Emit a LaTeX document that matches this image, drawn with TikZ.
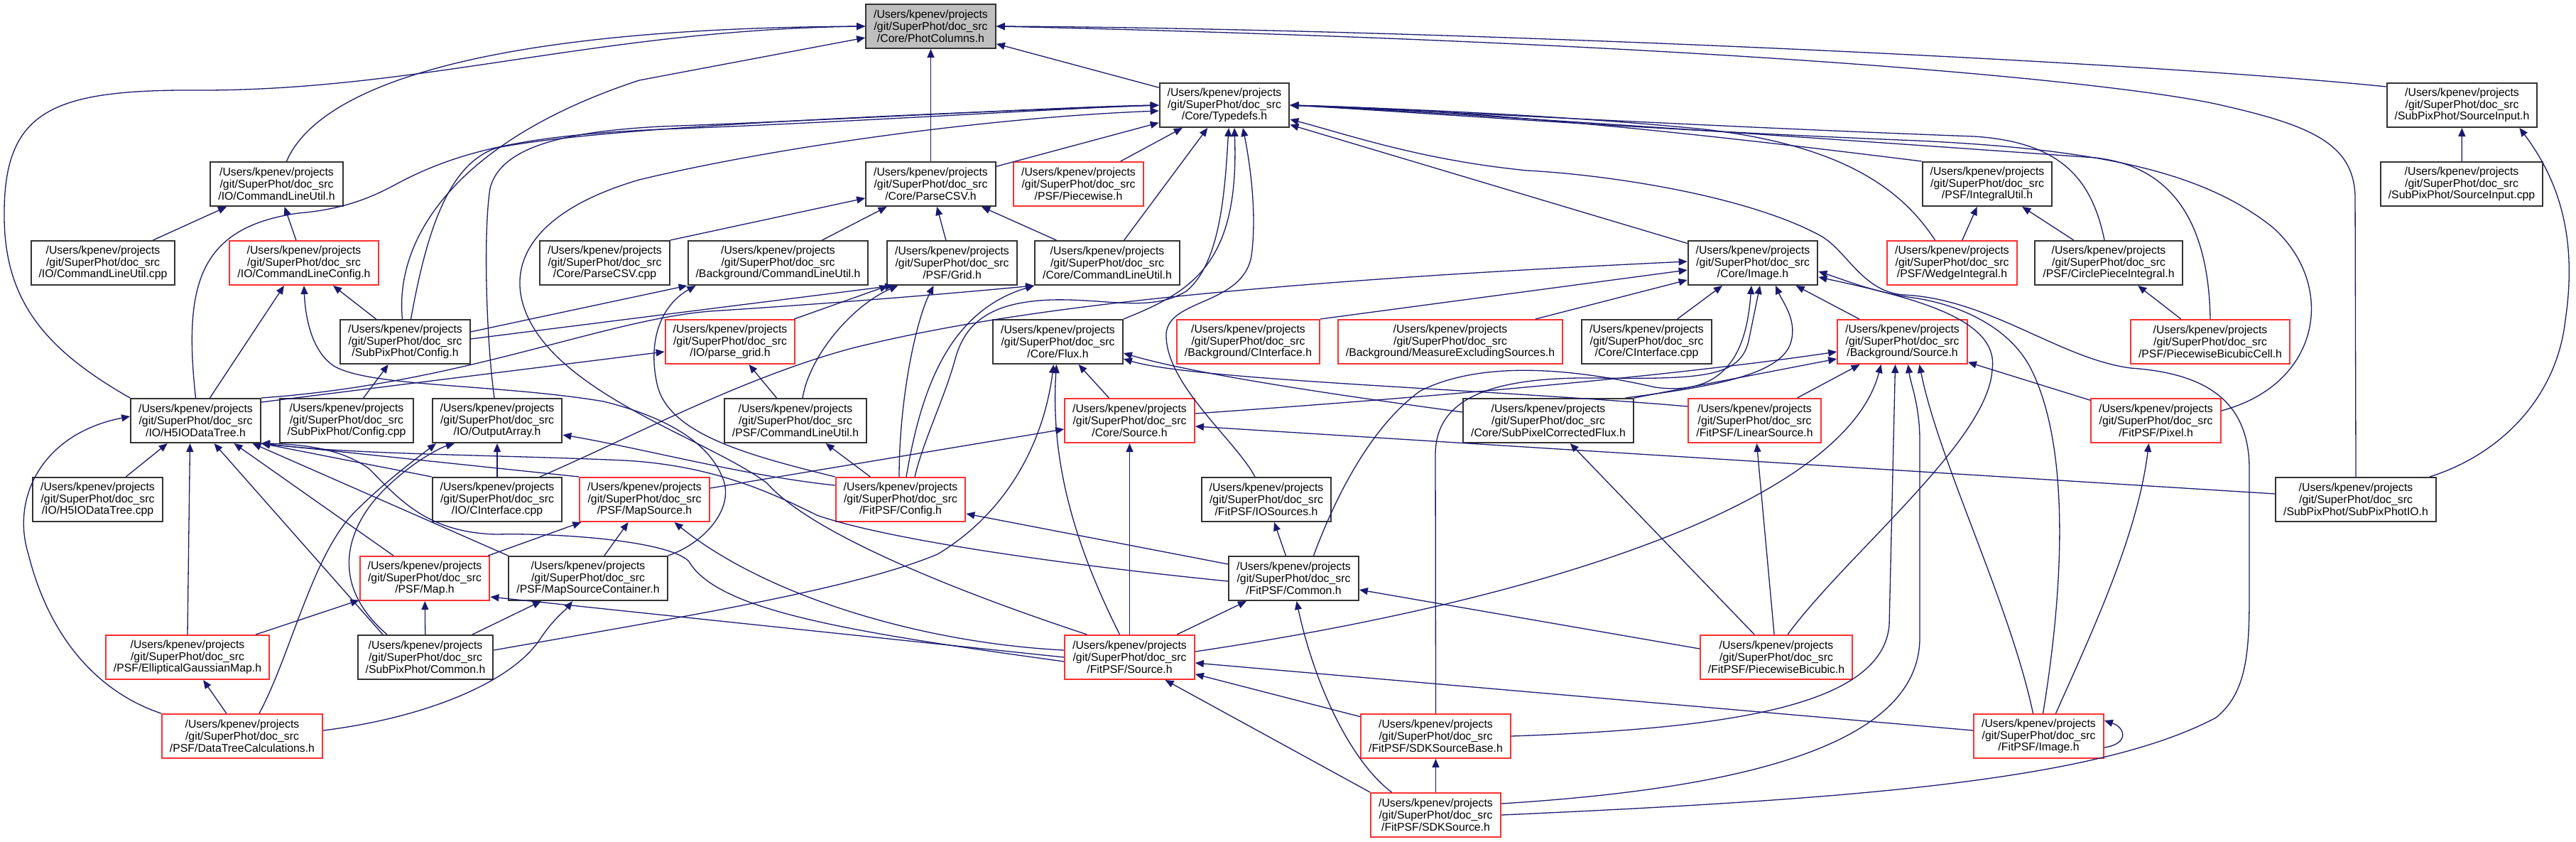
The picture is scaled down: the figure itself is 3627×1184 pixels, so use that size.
\documentclass[tikz,border=0pt]{standalone}
\usepackage{fontspec}
\setmainfont{Liberation Sans}
\usetikzlibrary{arrows.meta}
\definecolor{azuloscuro}{HTML}{191970}
\definecolor{rojo}{HTML}{FF3030}
\definecolor{gris}{HTML}{BFBFBF}
\newcommand{\srcpath}[1]{/Users/kpenev/projects\\/git/SuperPhot/doc\_src\\#1}
\begin{document}
\begin{tikzpicture}[x=0.5pt,y=-0.5pt,>={Triangle[length=6pt,width=5pt]},
  b/.style={draw=black!80,line width=1pt,fill=white,align=center,inner xsep=5.5pt,inner ysep=0pt,minimum height=31pt,font=\fontsize{7.9pt}{8.4pt}\selectfont},
  br/.style={b,draw=rojo},
  dep/.style={draw=azuloscuro,line width=0.65pt,->}]
\fill[white] (0,0) rectangle (3627,1184);
\useasboundingbox (0,0) rectangle (3627,1184);
\node[b,fill=gris] (pc) at (1310.5,37) {\srcpath{/Core/PhotColumns.h}};
\node[b] (td) at (1724,148) {\srcpath{/Core/Typedefs.h}};
\node[b] (sih) at (3466.5,148) {\srcpath{/SubPixPhot/SourceInput.h}};
\node[b] (iocu) at (389.5,259) {\srcpath{/IO/CommandLineUtil.h}};
\node[b] (pcsv) at (1310.5,259) {\srcpath{/Core/ParseCSV.h}};
\node[br] (pw) at (1518.5,259) {\srcpath{/PSF/Piecewise.h}};
\node[b] (iu) at (2798,259) {\srcpath{/PSF/IntegralUtil.h}};
\node[b] (sicpp) at (3466,259) {\srcpath{/SubPixPhot/SourceInput.cpp}};
\node[b] (iocucpp) at (145,370) {\srcpath{/IO/CommandLineUtil.cpp}};
\node[br] (clc) at (428,370) {\srcpath{/IO/CommandLineConfig.h}};
\node[b] (pcsvcpp) at (851.5,370) {\srcpath{/Core/ParseCSV.cpp}};
\node[b] (bgcu) at (1095.5,370) {\srcpath{/Background/CommandLineUtil.h}};
\node[b] (grid) at (1340.5,370) {\srcpath{/PSF/Grid.h}};
\node[b] (ccu) at (1559,370) {\srcpath{/Core/CommandLineUtil.h}};
\node[b] (img) at (2468,370) {\srcpath{/Core/Image.h}};
\node[br] (wedge) at (2748.5,370) {\srcpath{/PSF/WedgeIntegral.h}};
\node[b] (circ) at (2969,370) {\srcpath{/PSF/CirclePieceIntegral.h}};
\node[b] (spcfg) at (570.5,481) {\srcpath{/SubPixPhot/Config.h}};
\node[br] (pgrid) at (1028,481) {\srcpath{/IO/parse\_grid.h}};
\node[b] (flux) at (1489.5,481) {\srcpath{/Core/Flux.h}};
\node[br] (bgci) at (1757.5,481) {\srcpath{/Background/CInterface.h}};
\node[br] (mes) at (2042,481) {\srcpath{/Background/MeasureExcludingSources.h}};
\node[b] (cci) at (2318.5,481) {\srcpath{/Core/CInterface.cpp}};
\node[br] (bgsrc) at (2678.5,481) {\srcpath{/Background/Source.h}};
\node[br] (pbc) at (3112,481) {\srcpath{/PSF/PiecewiseBicubicCell.h}};
\node[b] (h5) at (275.5,592) {\srcpath{/IO/H5IODataTree.h}};
\node[b] (spcfgcpp) at (488,592) {\srcpath{/SubPixPhot/Config.cpp}};
\node[b] (oa) at (700,592) {\srcpath{/IO/OutputArray.h}};
\node[b] (psfcu) at (1120,592) {\srcpath{/PSF/CommandLineUtil.h}};
\node[br] (csrc) at (1590.5,592) {\srcpath{/Core/Source.h}};
\node[b] (spcf) at (2180,592) {\srcpath{/Core/SubPixelCorrectedFlux.h}};
\node[br] (lin) at (2470.5,592) {\srcpath{/FitPSF/LinearSource.h}};
\node[br] (pix) at (3035.5,592) {\srcpath{/FitPSF/Pixel.h}};
\node[b] (h5cpp) at (137.5,703) {\srcpath{/IO/H5IODataTree.cpp}};
\node[b] (ioci) at (700,703) {\srcpath{/IO/CInterface.cpp}};
\node[br] (ms) at (907.5,703) {\srcpath{/PSF/MapSource.h}};
\node[br] (fcfg) at (1268,703) {\srcpath{/FitPSF/Config.h}};
\node[b] (ios) at (1783,703) {\srcpath{/FitPSF/IOSources.h}};
\node[b] (spio) at (3317,703) {\srcpath{/SubPixPhot/SubPixPhotIO.h}};
\node[br] (map) at (598,814) {\srcpath{/PSF/Map.h}};
\node[b] (msc) at (828,814) {\srcpath{/PSF/MapSourceContainer.h}};
\node[b] (fcom) at (1821.5,814) {\srcpath{/FitPSF/Common.h}};
\node[br] (egm) at (264,925) {\srcpath{/PSF/EllipticalGaussianMap.h}};
\node[b] (spcom) at (599,925) {\srcpath{/SubPixPhot/Common.h}};
\node[br] (fsrc) at (1590.5,925) {\srcpath{/FitPSF/Source.h}};
\node[br] (pbic) at (2501,925) {\srcpath{/FitPSF/PiecewiseBicubic.h}};
\node[br] (dtc) at (341,1036) {\srcpath{/PSF/DataTreeCalculations.h}};
\node[br] (sdkb) at (2021.5,1036) {\srcpath{/FitPSF/SDKSourceBase.h}};
\node[br] (fimg) at (2870.5,1036) {\srcpath{/FitPSF/Image.h}};
\node[br] (sdk) at (2021.5,1147) {\srcpath{/FitPSF/SDKSource.h}};
% PhotColumns
\draw[dep] (td) -- (pc);
\draw[dep] (pcsv) -- (pc);
\draw[dep] ([xshift=7pt]iocu.north) .. controls (445,130) and (650,40) .. (pc.west);
\draw[dep] (h5.north west) .. controls (60,490) and (5,420) .. (6,300) .. controls (6,150) and (80,125) .. (293,127) .. controls (600,125) and (850,42) .. (pc.west);
\draw[dep] ([xshift=-2pt]spcfg.north) .. controls (555,330) and (650,195) .. (900,113) -- ([yshift=-8pt]pc.west);
\draw[dep] ([yshift=-3pt]sih.north west) .. controls (3000,85) and (2000,40) .. (pc.east);
\draw[dep] (spio.north) -- (3316,280) .. controls (3316,200) and (3250,175) .. (3114,145) .. controls (2950,112) and (2400,60) .. (pc.east);
% Typedefs
\draw[dep] (pcsv) -- (td);
\draw[dep] (pw) -- (td);
\draw[dep] (ccu) -- (td);
\draw[dep] (img) -- (td);
\draw[dep] (iu.north west) .. controls (2450,195) and (2100,155) .. (td.east);
\draw[dep] ([xshift=-12pt]wedge.north) .. controls (2680,270) and (2600,205) .. (2400,182) .. controls (2200,162) and (1950,152) .. (td.east);
\draw[dep] ([xshift=-3pt]circ.north) .. controls (2945,250) and (2900,200) .. (2780,192) .. controls (2400,178) and (2000,155) .. (td.east);
\draw[dep] (pbc.north) .. controls (3110,330) and (3070,235) .. (2950,222) .. controls (2500,190) and (2000,156) .. (td.east);
\draw[dep] ([yshift=7pt]pix.east) .. controls (3270,540) and (3290,400) .. (3200,320) .. controls (3100,240) and (2950,210) .. (2700,198) .. controls (2300,182) and (2000,158) .. (td.east);
\draw[dep] (sdk.east) .. controls (2600,1125) and (2950,1100) .. (3120,1010) .. controls (3170,970) and (3167,900) .. (3167,800) -- (3167,660) .. controls (3167,560) and (3100,525) .. (3000,518) .. controls (2900,505) and (2800,420) .. (2680,415) .. controls (2620,410) and (2600,350) .. (2560,330) .. controls (2450,272) and (2250,245) .. (2150,240) .. controls (2000,225) and (1900,190) .. ([yshift=-10pt]td.east);
\draw[dep] ([xshift=4pt]spcfg.north) .. controls (600,330) and (630,230) .. (700,208) .. controls (850,178) and (1300,160) .. (td.west);
\draw[dep] ([xshift=-2pt]oa.north) .. controls (685,480) and (680,330) .. (690,265) .. controls (705,205) and (800,185) .. (930,178) .. controls (1200,168) and (1500,150) .. (td.west);
\draw[dep] (h5.north) .. controls (258,400) and (280,320) .. (420,300) .. controls (480,295) and (520,280) .. (560,258) .. controls (650,210) and (750,190) .. (930,182) .. controls (1200,172) and (1500,152) .. (td.west);
\draw[dep] ([xshift=10pt]fcfg.north) .. controls (1300,620) and (1330,560) .. (1345,505) .. controls (1360,450) and (1400,425) .. (1480,422) .. controls (1560,420) and (1620,440) .. (1670,410) .. controls (1720,370) and (1725,260) .. ([xshift=3pt]td.south);
\draw[dep] (flux.north east) .. controls (1680,410) and (1745,370) .. ([xshift=7pt]td.south);
\draw[dep] ([xshift=-8pt]ios.north) .. controls (1740,620) and (1640,540) .. (1642,470) .. controls (1645,420) and (1750,430) .. (1762,360) .. controls (1770,300) and (1760,230) .. ([xshift=13pt]td.south);
\draw[dep] ([xshift=-30pt]fsrc.north) .. controls (1400,850) and (1150,760) .. (1080,680) .. controls (1000,620) and (800,560) .. (745,450) .. controls (710,380) and (740,300) .. (900,253) .. controls (1100,205) and (1400,165) .. ([yshift=-4pt]td.west);
% ParseCSV, command line
\draw[dep] (pcsvcpp.north east) -- (pcsv);
\draw[dep] (bgcu) -- (pcsv);
\draw[dep] (grid) -- (pcsv);
\draw[dep] (ccu) -- (pcsv);
\draw[dep] (iocucpp) -- (iocu);
\draw[dep] (clc) -- (iocu);
\draw[dep] ([xshift=10pt]h5.north) -- ([xshift=-14pt]clc.south);
\draw[dep] (spcfg) -- (clc);
\draw[dep] (msc.north east) .. controls (990,765) and (1030,720) .. (1020,680) .. controls (1005,630) and (950,590) .. (850,565) .. controls (700,540) and (520,545) .. (470,515) .. controls (440,495) and (430,450) .. (clc.south);
\draw[dep] (spcfgcpp) -- (spcfg);
\draw[dep] ([yshift=7pt]spcfg.east) -- (bgcu.south west);
\draw[dep] ([yshift=2pt]spcfg.east) -- ([xshift=5pt]grid.south west);
\draw[dep] (h5.north east) .. controls (650,540) and (850,450) .. (1000,438) .. controls (1200,425) and (1350,412) .. (ccu.south west);
\draw[dep] ([yshift=-3pt]h5.north east) -- ([yshift=-7pt]pgrid.west);
\draw[dep] (pgrid) -- (grid);
\draw[dep] (psfcu) -- (pgrid);
\draw[dep] ([xshift=5pt]psfcu.north) .. controls (1140,500) and (1200,430) .. ([xshift=8pt]grid.south west);
\draw[dep] ([xshift=-1pt]fcfg.north) .. controls (1266,560) and (1290,450) .. ([xshift=-13pt]grid.south);
\draw[dep] ([xshift=4pt]fcfg.north) .. controls (1295,560) and (1330,440) .. (ccu.south west);
\draw[dep] (fcfg) -- (psfcu);
\draw[dep] (fcfg.north west) .. controls (1050,640) and (940,610) .. (925,540) .. controls (912,480) and (930,430) .. ([xshift=6pt]bgcu.south west);
\draw[dep] ([yshift=10pt]fcfg.west) .. controls (1050,670) and (900,630) .. ([yshift=-10pt]oa.east);
% integrals, source input
\draw[dep] (wedge) -- (iu);
\draw[dep] (circ) -- (iu);
\draw[dep] (pbc) -- (circ);
\draw[dep] (sicpp) -- (sih);
\draw[dep] ([xshift=-5pt]spio.north east) .. controls (3520,640) and (3600,560) .. (3612,450) .. controls (3630,330) and (3600,250) .. ([xshift=-13pt]sih.south east);
\draw[dep] ([yshift=4pt]spio.west) -- ([yshift=-4pt]csrc.east);
% flux, sources
\draw[dep] (csrc) -- (flux);
\draw[dep] ([yshift=6pt]spcf.west) .. controls (1800,545) and (1660,520) .. ([yshift=-8pt]flux.east);
\draw[dep] ([yshift=10pt]lin.west) .. controls (2100,548) and (1680,535) .. ([yshift=-12pt]flux.east);
\draw[dep] ([yshift=5pt]spcom.east) .. controls (950,870) and (1200,830) .. (1320,780) .. controls (1420,720) and (1470,620) .. ([xshift=-3pt]flux.south);
\draw[dep] ([xshift=-7pt]fsrc.north) .. controls (1520,780) and (1478,660) .. ([xshift=-1pt]flux.south);
\draw[dep] ([yshift=5pt]csrc.east) .. controls (2000,560) and (2350,530) .. ([yshift=-7pt]bgsrc.west);
\draw[dep] (spcf.north east) -- ([yshift=-12pt]bgsrc.west);
\draw[dep] (lin) -- (bgsrc);
\draw[dep] ([yshift=4pt]fsrc.east) .. controls (2200,840) and (2600,700) .. ([xshift=-15pt]bgsrc.south);
\draw[dep] (sdkb.east) .. controls (2450,1025) and (2650,990) .. (2660,880) -- ([xshift=-5pt]bgsrc.south);
\draw[dep] ([yshift=8pt]sdk.east) .. controls (2450,1110) and (2700,1050) .. (2703,900) -- (2703,620) .. controls (2703,570) and (2690,540) .. ([xshift=4pt]bgsrc.south);
\draw[dep] ([xshift=-4pt]fimg.north) .. controls (2830,850) and (2730,650) .. ([xshift=12pt]bgsrc.south);
\draw[dep] (pix) -- (bgsrc);
\draw[dep] ([xshift=12pt]fimg.north) .. controls (2950,880) and (3010,750) .. ([xshift=-5pt]pix.south);
% Image
\draw[dep] ([xshift=3pt]fimg.north) .. controls (2910,800) and (2910,620) .. (2860,520) .. controls (2830,460) and (2760,430) .. (2700,420) .. controls (2640,412) and (2600,395) .. ([yshift=-6pt]img.east);
\draw[dep] ([xshift=8pt]pbic.north) .. controls (2600,780) and (2800,620) .. (2805,520) .. controls (2815,450) and (2700,420) .. ([yshift=-10pt]img.east);
\draw[dep] (cci) -- (img);
\draw[dep] (bgsrc) -- (img);
\draw[dep] ([xshift=-16pt]ioci.north east) .. controls (900,610) and (1050,530) .. (1200,490) .. controls (1400,440) and (1700,400) .. ([yshift=1pt]img.west);
\draw[dep] (bgci.north east) -- ([yshift=-5pt]img.west);
\draw[dep] ([xshift=60pt]mes.north) -- ([yshift=-12pt]img.west);
\draw[dep] ([xshift=14pt]fcom.north) .. controls (1880,700) and (1930,600) .. (2000,550) .. controls (2080,510) and (2200,515) .. (2330,545) .. controls (2440,560) and (2460,480) .. ([xshift=-1pt]img.south);
\draw[dep] ([xshift=-6pt]spcf.north east) .. controls (2400,545) and (2510,530) .. (2522,480) .. controls (2530,450) and (2510,425) .. ([xshift=16pt]img.south);
\draw[dep] (sdkb.north) -- (2021,640) .. controls (2021,560) and (2100,530) .. (2250,532) .. controls (2400,534) and (2450,530) .. (2462,480) -- ([xshift=5pt]img.south);
% piecewise bicubic, common
\draw[dep] (pbic) -- (spcf);
\draw[dep] (pbic) -- (lin);
\draw[dep] ([yshift=6pt]pbic.west) -- ([yshift=-8pt]fcom.east);
\draw[dep] (fsrc) -- (fcom);
\draw[dep] (fsrc) -- (csrc);
\draw[dep] (fsrc.west) -- ([yshift=-13pt]map.east);
\draw[dep] ([yshift=5pt]fsrc.west) .. controls (1300,905) and (1080,840) .. ([xshift=21pt]ms.south);
\draw[dep] ([yshift=-3pt]fsrc.west) .. controls (1200,890) and (1010,860) .. (970,790) .. controls (940,760) and (780,750) .. (700,752) .. controls (600,750) and (560,700) .. (520,660) .. controls (480,630) and (420,625) .. (h5.south east);
\draw[dep] ([yshift=-2pt]fcom.west) .. controls (1500,795) and (1250,760) .. (1150,725) .. controls (1080,690) and (1000,655) .. (880,648) .. controls (700,640) and (500,640) .. (h5.south east);
\draw[dep] ([yshift=10pt]fcom.west) -- ([yshift=-10pt]fcfg.east);
\draw[dep] (fcom) -- (ios);
% H5IODataTree and maps
\draw[dep] (ioci.north west) -- (h5.south east);
\draw[dep] (ioci) -- (oa);
\draw[dep] (h5cpp) -- (h5);
\draw[dep] (egm.north) -- ([xshift=-4pt]h5.south);
\draw[dep] ([xshift=-30pt]spcom.north) -- ([xshift=13pt]h5.south);
\draw[dep] ([xshift=-22pt]map.north) -- ([xshift=27pt]h5.south);
\draw[dep] (msc.north west) -- ([xshift=40pt]h5.south);
\draw[dep] (ms.north west) -- (h5.south east);
\draw[dep] (dtc.north west) .. controls (140,975) and (70,900) .. (40,780) .. controls (15,700) and (60,610) .. ([yshift=3pt]h5.west);
\draw[dep] ([xshift=12pt]dtc.north) .. controls (410,920) and (440,780) .. (500,720) .. controls (540,680) and (580,650) .. ([xshift=-43pt]oa.south);
\draw[dep] (dtc) -- (egm);
\draw[dep] ([yshift=4pt]dtc.east) .. controls (600,1010) and (720,960) .. (760,900) .. controls (780,870) and (795,860) .. ([xshift=-11pt]msc.south);
\draw[dep] (egm) -- (map);
\draw[dep] (spcom) -- (map);
\draw[dep] (spcom) -- (msc);
\draw[dep] ([xshift=-27pt]spcom.north) .. controls (460,820) and (490,740) .. (540,690) .. controls (580,650) and (620,630) .. ([xshift=-30pt]oa.south);
\draw[dep] (map) -- (ms);
\draw[dep] (msc) -- (ms);
\draw[dep] ([yshift=8pt]ms.east) -- ([yshift=-6pt]csrc.west);
% SDK sources, FitPSF image
\draw[dep] (sdkb) -- (fsrc);
\draw[dep] (sdk.north west) -- ([xshift=25pt]fsrc.south);
\draw[dep] (sdk) -- (sdkb);
\draw[dep] ([xshift=-31pt]sdk.north) .. controls (1900,1070) and (1850,960) .. ([xshift=2pt]fcom.south);
\draw[dep] ([yshift=4pt]fimg.west) -- ([yshift=-4pt]fsrc.east);
\draw[dep] ([yshift=-8pt]fimg.east) .. controls +(35,-5) and +(30,10) .. ([yshift=11pt]fimg.east);
\end{tikzpicture}
\end{document}
